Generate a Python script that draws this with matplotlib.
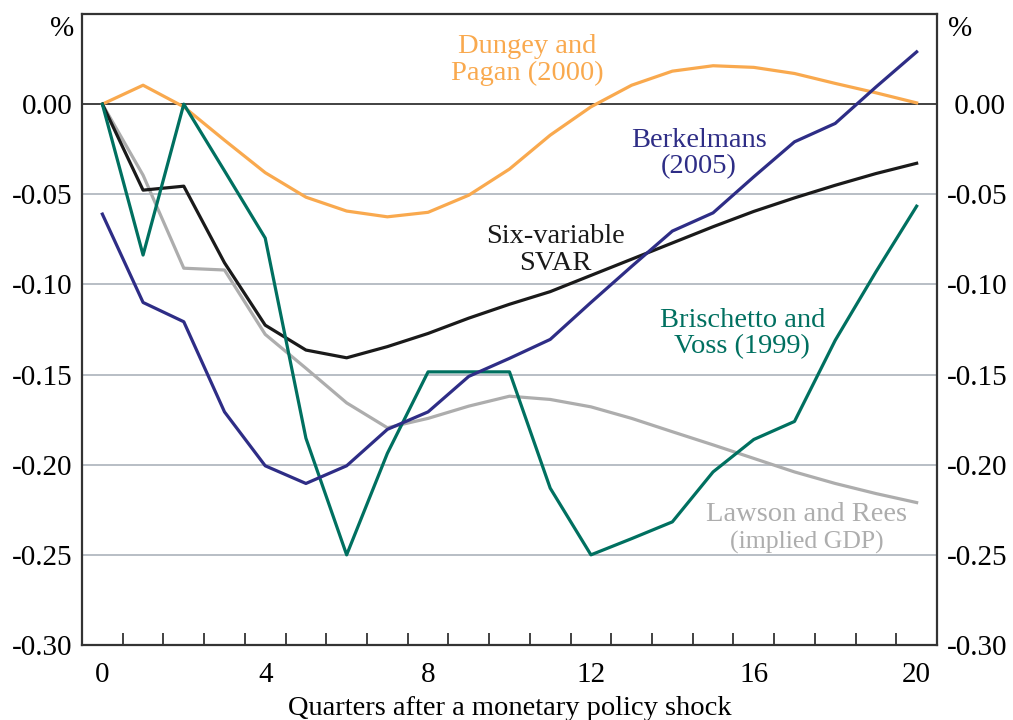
import matplotlib
matplotlib.use("Agg")
import matplotlib.pyplot as plt
from matplotlib.ticker import FixedLocator, NullFormatter

plt.rcParams['font.family'] = ['Liberation Serif', 'DejaVu Serif']

quarters = list(range(21))

dungey_pagan = [0.000, 0.0105, -0.0015, -0.020, -0.038, -0.0516, -0.0593, -0.0625, -0.060,
                -0.0505, -0.0360, -0.0172, -0.0015, 0.0105, 0.0183, 0.0213, 0.0204, 0.0170,
                0.0115, 0.0063, 0.0007]
berkelmans = [-0.061, -0.110, -0.1207, -0.1707, -0.2006, -0.2104, -0.2006, -0.1804, -0.1707,
              -0.151, -0.141, -0.1305, -0.110, -0.090, -0.0704, -0.0603, -0.0403, -0.0209,
              -0.0107, 0.0095, 0.029]
svar = [0.000, -0.0477, -0.0455, -0.088, -0.1226, -0.1364, -0.1407, -0.1345, -0.1272,
        -0.1187, -0.111, -0.104, -0.095, -0.086, -0.077, -0.068, -0.0595, -0.052,
        -0.045, -0.0385, -0.0328]
brischetto_voss = [0.000, -0.0837, 0.000, -0.037, -0.0743, -0.1853, -0.250, -0.1937, -0.1485,
                   -0.1485, -0.1485, -0.213, -0.250, -0.241, -0.2317, -0.204, -0.186, -0.176,
                   -0.131, -0.093, -0.0566]
lawson_rees = [0.000, -0.0394, -0.091, -0.092, -0.1277, -0.1465, -0.1657, -0.1795, -0.1743,
               -0.1675, -0.162, -0.1638, -0.1679, -0.1743, -0.1817, -0.189, -0.1965, -0.204,
               -0.2104, -0.216, -0.221]

yticks = [0.00, -0.05, -0.10, -0.15, -0.20, -0.25, -0.30]
ytick_labels_left = ["0.00", "-0.05", "-0.10", "-0.15", "-0.20", "-0.25", "-0.30"]
ytick_labels_right = [" 0.00", "-0.05", "-0.10", "-0.15", "-0.20", "-0.25", "-0.30"]
xticks = [0, 4, 8, 12, 16, 20]

c_orange = "#F9A94E"
c_navy = "#2E2D86"
c_black = "#1A1A1A"
c_teal = "#007060"
c_grey = "#ADADAD"
c_grid = "#B8BEC5"
c_spine = "#333333"

fig = plt.figure(figsize=(10.13, 7.2), dpi=100)
ax = fig.add_axes([82/1013, 75/720, (937-82)/1013, (645-14)/720])

ax.set_xlim(-0.5, 20.5)
ax.set_ylim(-0.30, 0.05)

for y in [-0.05, -0.10, -0.15, -0.20, -0.25]:
    ax.axhline(y, color=c_grid, lw=1.4, zorder=1)
ax.axhline(0, color=c_spine, lw=1.3, zorder=2)

lw = 2.3
ax.plot(quarters, lawson_rees, color=c_grey, lw=lw, zorder=3)
ax.plot(quarters, dungey_pagan, color=c_orange, lw=lw, zorder=4)
ax.plot(quarters, svar, color=c_black, lw=lw, zorder=5)
ax.plot(quarters, brischetto_voss, color=c_teal, lw=lw, zorder=6)
ax.plot(quarters, berkelmans, color=c_navy, lw=lw, zorder=7)

for s in ax.spines.values():
    s.set_color(c_spine)
    s.set_linewidth(1.6)

fs = 21
ax.set_yticks(yticks)
ax.set_yticklabels(ytick_labels_left)
ax.tick_params(axis='y', which='both', length=0, labelsize=fs, pad=7,
               left=False, right=False, labelleft=True, labelright=False)

ax2 = ax.twinx()
ax2.set_ylim(ax.get_ylim())
ax2.set_yticks(yticks)
ax2.set_yticklabels(ytick_labels_right)
ax2.tick_params(axis='y', length=0, labelsize=fs, pad=7)
for s in ax2.spines.values():
    s.set_visible(False)

ax.set_xticks(xticks)
ax.set_xticklabels([str(x) for x in xticks])
ax.xaxis.set_minor_locator(FixedLocator([i + 0.5 for i in range(20)]))
ax.xaxis.set_minor_formatter(NullFormatter())
ax.tick_params(axis='x', which='major', length=0, labelsize=fs, pad=12)
ax.tick_params(axis='x', which='minor', direction='in', length=9, width=1.3, color=c_spine)
ax.set_xlabel("Quarters after a monetary policy shock", fontsize=20.5, labelpad=6)

fig.text(62/1013, 1 - 29/720, "%", ha='center', va='center', fontsize=fs)
fig.text(960/1013, 1 - 29/720, "%", ha='center', va='center', fontsize=fs)

afs = 20.5
labels = [
    ("Dungey and", 10.44, 0.0281, c_orange, afs),
    ("Pagan (2000)", 10.44, 0.0133, c_orange, afs),
    ("Berkelmans", 14.65, -0.0237, c_navy, afs),
    ("(2005)", 14.65, -0.0384, c_navy, afs),
    ("Six-variable", 11.13, -0.0772, c_black, afs),
    ("SVAR", 11.13, -0.0920, c_black, afs),
    ("Brischetto and", 15.72, -0.1235, c_teal, afs),
    ("Voss (1999)", 15.72, -0.1382, c_teal, afs),
    ("Lawson and Rees", 17.3, -0.2312, c_grey, afs),
    ("(implied GDP)", 17.3, -0.2464, c_grey, 18.5),
]
for txt, x, y, c, size in labels:
    ax.text(x, y, txt, color=c, fontsize=size, ha='center', va='baseline', zorder=8)

fig.savefig("out.png", dpi=100)
